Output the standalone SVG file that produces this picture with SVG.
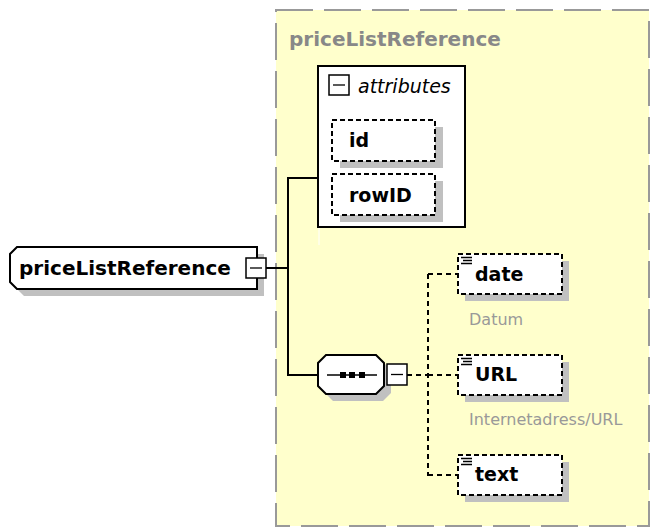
<svg xmlns="http://www.w3.org/2000/svg" width="651" height="529" viewBox="0 0 651 529">
<style>
.bold{font-family:"DejaVu Sans",Verdana,sans-serif;font-weight:bold;font-size:19px;fill:#000}
.title{font-family:"DejaVu Sans",Verdana,sans-serif;font-weight:bold;font-size:20px}
.desc{font-family:"DejaVu Sans",Verdana,sans-serif;font-size:16px;fill:#999}
.shadow{fill:#c0c0c0;stroke:none}
.elem{fill:#fff;stroke:#000;stroke-width:2;stroke-dasharray:5 3}
.solid{fill:#fff;stroke:#000;stroke-width:2}
.box{fill:#fff;stroke:#000;stroke-width:1.5}
.line{fill:none;stroke:#000;stroke-width:2}
.dline{fill:none;stroke:#000;stroke-width:2;stroke-dasharray:5 4}
.icon{stroke:#000;stroke-width:1.3}
</style>
<rect width="651" height="529" fill="#fff"/>
<g id="container">
<rect x="276" y="10" width="373" height="516" fill="#FFFFCC" stroke="#999" stroke-width="2" stroke-dasharray="37 11"/>
<text x="289" y="46" class="title" fill="#888">priceListReference</text>
<line x1="319" y1="228" x2="319" y2="245" stroke="#fff" stroke-width="1"/>
</g>
<g id="connectors">
<path class="line" d="M266,268 H288 M288,178 V375 M287,178 H318 M287,375 H318"/>
<path class="dline" d="M407,375 H428 M428,274 V476 M428,274 H458 M428,375 H458 M428,475 H458"/>
</g>
<g id="priceListReference">
<path class="shadow" d="M24,254 H264 V296 H24 L17,289 V261 Z"/>
<path class="solid" d="M17,247 H257 V289 H17 L10,282 V254 Z"/>
<text x="19" y="275" class="title" fill="#000">priceListReference</text>
<rect class="box" x="246" y="258" width="20" height="20"/>
<line class="icon" x1="250" y1="268" x2="262" y2="268" stroke-width="1.6"/>
</g>
<g id="attributes">
<rect class="solid" x="318" y="66" width="147" height="161"/>
<rect class="box" x="329" y="75" width="20" height="20"/>
<line class="icon" x1="333" y1="85" x2="345" y2="85" stroke-width="1.6"/>
<text x="358" y="93" font-family="'DejaVu Sans',Verdana,sans-serif" font-style="italic" font-size="19" fill="#000">attributes</text>
</g>
<g id="id">
<rect class="shadow" x="340" y="127" width="103" height="41"/>
<rect class="elem" x="332" y="120" width="103" height="41"/>
<text x="349" y="147" class="bold">id</text>
</g>
<g id="rowID">
<rect class="shadow" x="340" y="181" width="103" height="41"/>
<rect class="elem" x="332" y="174" width="103" height="41"/>
<text x="349" y="202" class="bold">rowID</text>
</g>
<g id="sequence">
<path class="shadow" d="M333,362 H383 L391,370 V393 L383,401 H333 L325,393 V370 Z"/>
<path class="solid" d="M326,355 H376 L384,363 V386 L376,394 H326 L318,386 V363 Z"/>
<line x1="327" y1="375" x2="377" y2="375" stroke="#000" stroke-width="1.5"/>
<rect x="340" y="372" width="6" height="6" fill="#000"/>
<rect x="349" y="372" width="6" height="6" fill="#000"/>
<rect x="359" y="372" width="6" height="6" fill="#000"/>
<rect class="box" x="387" y="364" width="20" height="21"/>
<line class="icon" x1="391" y1="374.5" x2="403" y2="374.5" stroke-width="1.6"/>
</g>
<g id="date">
<rect class="shadow" x="465" y="261" width="104" height="40"/>
<rect class="elem" x="458" y="254" width="104" height="40"/>
<path class="icon" d="M461,257.5 H472 M463,260.5 H472 M461,263.5 H472"/>
<text x="475" y="281" class="bold">date</text>
<text x="469" y="325" class="desc">Datum</text>
</g>
<g id="URL">
<rect class="shadow" x="465" y="362" width="104" height="40"/>
<rect class="elem" x="458" y="355" width="104" height="40"/>
<path class="icon" d="M461,358.5 H472 M463,361.5 H472 M461,364.5 H472"/>
<text x="475" y="381" class="bold">URL</text>
<text x="469" y="425" class="desc">Internetadress/URL</text>
</g>
<g id="text">
<rect class="shadow" x="465" y="462" width="104" height="40"/>
<rect class="elem" x="458" y="455" width="104" height="40"/>
<path class="icon" d="M461,458.5 H472 M463,461.5 H472 M461,464.5 H472"/>
<text x="475" y="481" class="bold">text</text>
</g>
</svg>
